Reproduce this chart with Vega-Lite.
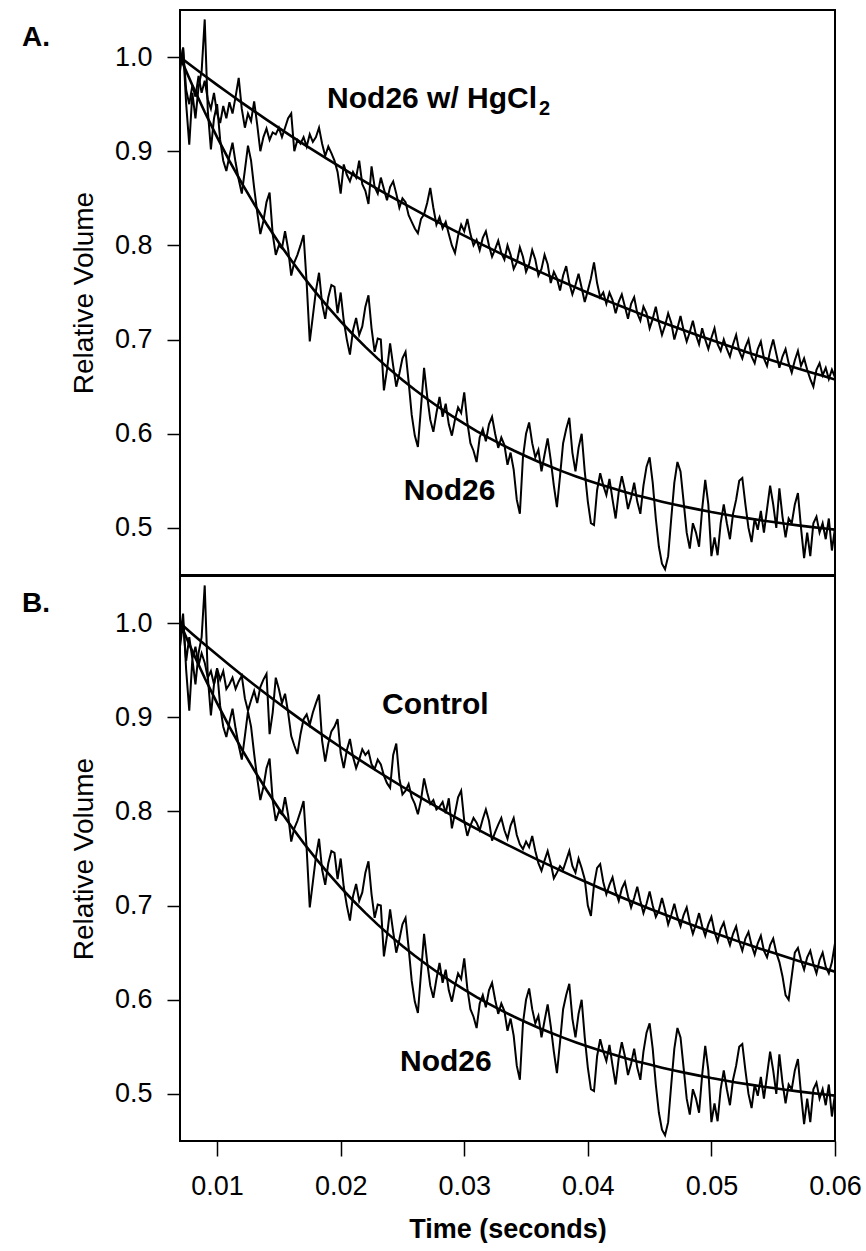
{
  "$schema": "https://vega.github.io/schema/vega-lite/v6.json",
  "background": "white",
  "padding": {"left": 20, "top": 9, "right": 0, "bottom": 0},
  "spacing": -1,
  "config": {
    "font": "Liberation Sans",
    "view": {"stroke": "black", "strokeWidth": 2},
    "axis": {"grid": false, "domain": false, "labelColor": "black", "titleColor": "black", "tickColor": "black", "tickWidth": 1.5, "labelFont": "Liberation Sans", "titleFont": "Liberation Sans"},
    "text": {"font": "Liberation Sans"}
  },
  "datasets": {
    "traces": [
      {"t":0.00700,"hg":0.990,"nod":0.985,"ctrl":0.975},
      {"t":0.00725,"hg":1.010,"nod":1.010,"ctrl":1.000},
      {"t":0.00750,"hg":0.965,"nod":0.950,"ctrl":0.960},
      {"t":0.00775,"hg":0.950,"nod":0.907,"ctrl":0.985},
      {"t":0.00800,"hg":0.970,"nod":0.962,"ctrl":0.962},
      {"t":0.00825,"hg":0.958,"nod":0.935,"ctrl":0.975},
      {"t":0.00850,"hg":0.980,"nod":0.968,"ctrl":0.955},
      {"t":0.00875,"hg":0.962,"nod":0.985,"ctrl":0.968},
      {"t":0.00900,"hg":0.975,"nod":1.040,"ctrl":0.958},
      {"t":0.00925,"hg":0.955,"nod":0.943,"ctrl":0.942},
      {"t":0.00950,"hg":0.945,"nod":0.902,"ctrl":0.949},
      {"t":0.00975,"hg":0.962,"nod":0.935,"ctrl":0.935},
      {"t":0.01000,"hg":0.940,"nod":0.950,"ctrl":0.952},
      {"t":0.01025,"hg":0.930,"nod":0.912,"ctrl":0.940},
      {"t":0.01050,"hg":0.948,"nod":0.890,"ctrl":0.949},
      {"t":0.01075,"hg":0.935,"nod":0.879,"ctrl":0.930},
      {"t":0.01100,"hg":0.952,"nod":0.895,"ctrl":0.935},
      {"t":0.01125,"hg":0.940,"nod":0.909,"ctrl":0.942},
      {"t":0.01150,"hg":0.958,"nod":0.888,"ctrl":0.930},
      {"t":0.01175,"hg":0.978,"nod":0.870,"ctrl":0.938},
      {"t":0.01200,"hg":0.945,"nod":0.855,"ctrl":0.944},
      {"t":0.01225,"hg":0.925,"nod":0.880,"ctrl":0.920},
      {"t":0.01250,"hg":0.940,"nod":0.906,"ctrl":0.907},
      {"t":0.01275,"hg":0.932,"nod":0.890,"ctrl":0.918},
      {"t":0.01300,"hg":0.953,"nod":0.861,"ctrl":0.928},
      {"t":0.01325,"hg":0.928,"nod":0.835,"ctrl":0.915},
      {"t":0.01350,"hg":0.900,"nod":0.812,"ctrl":0.932},
      {"t":0.01375,"hg":0.915,"nod":0.826,"ctrl":0.940},
      {"t":0.01400,"hg":0.924,"nod":0.846,"ctrl":0.946},
      {"t":0.01425,"hg":0.912,"nod":0.856,"ctrl":0.882},
      {"t":0.01450,"hg":0.920,"nod":0.812,"ctrl":0.905},
      {"t":0.01475,"hg":0.918,"nod":0.790,"ctrl":0.942},
      {"t":0.01500,"hg":0.925,"nod":0.800,"ctrl":0.930},
      {"t":0.01525,"hg":0.915,"nod":0.797,"ctrl":0.915},
      {"t":0.01550,"hg":0.925,"nod":0.815,"ctrl":0.925},
      {"t":0.01575,"hg":0.935,"nod":0.796,"ctrl":0.905},
      {"t":0.01600,"hg":0.940,"nod":0.768,"ctrl":0.880},
      {"t":0.01625,"hg":0.900,"nod":0.782,"ctrl":0.870},
      {"t":0.01650,"hg":0.912,"nod":0.790,"ctrl":0.861},
      {"t":0.01675,"hg":0.908,"nod":0.800,"ctrl":0.882},
      {"t":0.01700,"hg":0.915,"nod":0.811,"ctrl":0.898},
      {"t":0.01725,"hg":0.905,"nod":0.760,"ctrl":0.903},
      {"t":0.01750,"hg":0.918,"nod":0.698,"ctrl":0.892},
      {"t":0.01775,"hg":0.910,"nod":0.725,"ctrl":0.905},
      {"t":0.01800,"hg":0.915,"nod":0.752,"ctrl":0.915},
      {"t":0.01825,"hg":0.925,"nod":0.771,"ctrl":0.924},
      {"t":0.01850,"hg":0.908,"nod":0.738,"ctrl":0.875},
      {"t":0.01875,"hg":0.895,"nod":0.722,"ctrl":0.853},
      {"t":0.01900,"hg":0.905,"nod":0.745,"ctrl":0.872},
      {"t":0.01925,"hg":0.898,"nod":0.758,"ctrl":0.885},
      {"t":0.01950,"hg":0.890,"nod":0.756,"ctrl":0.890},
      {"t":0.01975,"hg":0.878,"nod":0.728,"ctrl":0.898},
      {"t":0.02000,"hg":0.855,"nod":0.750,"ctrl":0.862},
      {"t":0.02025,"hg":0.886,"nod":0.720,"ctrl":0.846},
      {"t":0.02050,"hg":0.875,"nod":0.700,"ctrl":0.865},
      {"t":0.02075,"hg":0.868,"nod":0.684,"ctrl":0.877},
      {"t":0.02100,"hg":0.878,"nod":0.710,"ctrl":0.858},
      {"t":0.02125,"hg":0.872,"nod":0.723,"ctrl":0.846},
      {"t":0.02150,"hg":0.890,"nod":0.705,"ctrl":0.855},
      {"t":0.02175,"hg":0.865,"nod":0.714,"ctrl":0.866},
      {"t":0.02200,"hg":0.858,"nod":0.735,"ctrl":0.860},
      {"t":0.02225,"hg":0.844,"nod":0.747,"ctrl":0.864},
      {"t":0.02250,"hg":0.884,"nod":0.712,"ctrl":0.850},
      {"t":0.02275,"hg":0.862,"nod":0.687,"ctrl":0.845},
      {"t":0.02300,"hg":0.855,"nod":0.701,"ctrl":0.855},
      {"t":0.02325,"hg":0.872,"nod":0.700,"ctrl":0.850},
      {"t":0.02350,"hg":0.860,"nod":0.646,"ctrl":0.838},
      {"t":0.02375,"hg":0.848,"nod":0.668,"ctrl":0.830},
      {"t":0.02400,"hg":0.862,"nod":0.696,"ctrl":0.825},
      {"t":0.02425,"hg":0.868,"nod":0.672,"ctrl":0.860},
      {"t":0.02450,"hg":0.855,"nod":0.650,"ctrl":0.872},
      {"t":0.02475,"hg":0.840,"nod":0.664,"ctrl":0.835},
      {"t":0.02500,"hg":0.850,"nod":0.680,"ctrl":0.818},
      {"t":0.02525,"hg":0.846,"nod":0.687,"ctrl":0.822},
      {"t":0.02550,"hg":0.832,"nod":0.655,"ctrl":0.829},
      {"t":0.02575,"hg":0.825,"nod":0.620,"ctrl":0.815},
      {"t":0.02600,"hg":0.818,"nod":0.598,"ctrl":0.808},
      {"t":0.02625,"hg":0.813,"nod":0.586,"ctrl":0.797},
      {"t":0.02650,"hg":0.828,"nod":0.628,"ctrl":0.812},
      {"t":0.02675,"hg":0.833,"nod":0.670,"ctrl":0.835},
      {"t":0.02700,"hg":0.845,"nod":0.640,"ctrl":0.820},
      {"t":0.02725,"hg":0.861,"nod":0.615,"ctrl":0.808},
      {"t":0.02750,"hg":0.840,"nod":0.602,"ctrl":0.812},
      {"t":0.02775,"hg":0.822,"nod":0.622,"ctrl":0.802},
      {"t":0.02800,"hg":0.830,"nod":0.639,"ctrl":0.805},
      {"t":0.02825,"hg":0.818,"nod":0.618,"ctrl":0.810},
      {"t":0.02850,"hg":0.825,"nod":0.632,"ctrl":0.798},
      {"t":0.02875,"hg":0.812,"nod":0.610,"ctrl":0.814},
      {"t":0.02900,"hg":0.800,"nod":0.598,"ctrl":0.782},
      {"t":0.02925,"hg":0.792,"nod":0.615,"ctrl":0.798},
      {"t":0.02950,"hg":0.810,"nod":0.628,"ctrl":0.815},
      {"t":0.02975,"hg":0.822,"nod":0.622,"ctrl":0.822},
      {"t":0.03000,"hg":0.815,"nod":0.644,"ctrl":0.790},
      {"t":0.03025,"hg":0.828,"nod":0.612,"ctrl":0.774},
      {"t":0.03050,"hg":0.812,"nod":0.590,"ctrl":0.785},
      {"t":0.03075,"hg":0.800,"nod":0.582,"ctrl":0.793},
      {"t":0.03100,"hg":0.806,"nod":0.570,"ctrl":0.788},
      {"t":0.03125,"hg":0.795,"nod":0.596,"ctrl":0.780},
      {"t":0.03150,"hg":0.808,"nod":0.605,"ctrl":0.792},
      {"t":0.03175,"hg":0.815,"nod":0.592,"ctrl":0.802},
      {"t":0.03200,"hg":0.800,"nod":0.610,"ctrl":0.790},
      {"t":0.03225,"hg":0.788,"nod":0.618,"ctrl":0.769},
      {"t":0.03250,"hg":0.796,"nod":0.600,"ctrl":0.778},
      {"t":0.03275,"hg":0.805,"nod":0.585,"ctrl":0.786},
      {"t":0.03300,"hg":0.792,"nod":0.596,"ctrl":0.793},
      {"t":0.03325,"hg":0.785,"nod":0.588,"ctrl":0.780},
      {"t":0.03350,"hg":0.800,"nod":0.567,"ctrl":0.771},
      {"t":0.03375,"hg":0.790,"nod":0.580,"ctrl":0.785},
      {"t":0.03400,"hg":0.775,"nod":0.562,"ctrl":0.793},
      {"t":0.03425,"hg":0.782,"nod":0.530,"ctrl":0.775},
      {"t":0.03450,"hg":0.798,"nod":0.515,"ctrl":0.765},
      {"t":0.03475,"hg":0.788,"nod":0.575,"ctrl":0.760},
      {"t":0.03500,"hg":0.772,"nod":0.600,"ctrl":0.768},
      {"t":0.03525,"hg":0.780,"nod":0.612,"ctrl":0.762},
      {"t":0.03550,"hg":0.795,"nod":0.590,"ctrl":0.774},
      {"t":0.03575,"hg":0.785,"nod":0.575,"ctrl":0.758},
      {"t":0.03600,"hg":0.768,"nod":0.583,"ctrl":0.745},
      {"t":0.03625,"hg":0.775,"nod":0.560,"ctrl":0.737},
      {"t":0.03650,"hg":0.790,"nod":0.578,"ctrl":0.748},
      {"t":0.03675,"hg":0.780,"nod":0.595,"ctrl":0.758},
      {"t":0.03700,"hg":0.760,"nod":0.572,"ctrl":0.745},
      {"t":0.03725,"hg":0.772,"nod":0.545,"ctrl":0.729},
      {"t":0.03750,"hg":0.765,"nod":0.522,"ctrl":0.735},
      {"t":0.03775,"hg":0.752,"nod":0.555,"ctrl":0.742},
      {"t":0.03800,"hg":0.768,"nod":0.590,"ctrl":0.738},
      {"t":0.03825,"hg":0.778,"nod":0.605,"ctrl":0.748},
      {"t":0.03850,"hg":0.760,"nod":0.617,"ctrl":0.758},
      {"t":0.03875,"hg":0.748,"nod":0.580,"ctrl":0.742},
      {"t":0.03900,"hg":0.758,"nod":0.560,"ctrl":0.735},
      {"t":0.03925,"hg":0.770,"nod":0.585,"ctrl":0.750},
      {"t":0.03950,"hg":0.755,"nod":0.600,"ctrl":0.740},
      {"t":0.03975,"hg":0.740,"nod":0.560,"ctrl":0.728},
      {"t":0.04000,"hg":0.752,"nod":0.528,"ctrl":0.700},
      {"t":0.04025,"hg":0.765,"nod":0.505,"ctrl":0.689},
      {"t":0.04050,"hg":0.782,"nod":0.503,"ctrl":0.722},
      {"t":0.04075,"hg":0.760,"nod":0.540,"ctrl":0.740},
      {"t":0.04100,"hg":0.745,"nod":0.558,"ctrl":0.744},
      {"t":0.04125,"hg":0.750,"nod":0.545,"ctrl":0.725},
      {"t":0.04150,"hg":0.738,"nod":0.535,"ctrl":0.712},
      {"t":0.04175,"hg":0.750,"nod":0.552,"ctrl":0.722},
      {"t":0.04200,"hg":0.742,"nod":0.530,"ctrl":0.730},
      {"t":0.04225,"hg":0.728,"nod":0.510,"ctrl":0.715},
      {"t":0.04250,"hg":0.740,"nod":0.538,"ctrl":0.705},
      {"t":0.04275,"hg":0.748,"nod":0.555,"ctrl":0.718},
      {"t":0.04300,"hg":0.735,"nod":0.540,"ctrl":0.725},
      {"t":0.04325,"hg":0.722,"nod":0.520,"ctrl":0.710},
      {"t":0.04350,"hg":0.738,"nod":0.532,"ctrl":0.698},
      {"t":0.04375,"hg":0.745,"nod":0.548,"ctrl":0.708},
      {"t":0.04400,"hg":0.728,"nod":0.528,"ctrl":0.720},
      {"t":0.04425,"hg":0.720,"nod":0.515,"ctrl":0.705},
      {"t":0.04450,"hg":0.735,"nod":0.545,"ctrl":0.692},
      {"t":0.04475,"hg":0.728,"nod":0.565,"ctrl":0.702},
      {"t":0.04500,"hg":0.712,"nod":0.575,"ctrl":0.715},
      {"t":0.04525,"hg":0.722,"nod":0.548,"ctrl":0.700},
      {"t":0.04550,"hg":0.735,"nod":0.510,"ctrl":0.688},
      {"t":0.04575,"hg":0.718,"nod":0.480,"ctrl":0.695},
      {"t":0.04600,"hg":0.705,"nod":0.462,"ctrl":0.708},
      {"t":0.04625,"hg":0.715,"nod":0.456,"ctrl":0.695},
      {"t":0.04650,"hg":0.728,"nod":0.470,"ctrl":0.680},
      {"t":0.04675,"hg":0.718,"nod":0.510,"ctrl":0.690},
      {"t":0.04700,"hg":0.700,"nod":0.548,"ctrl":0.702},
      {"t":0.04725,"hg":0.712,"nod":0.570,"ctrl":0.688},
      {"t":0.04750,"hg":0.725,"nod":0.560,"ctrl":0.678},
      {"t":0.04775,"hg":0.710,"nod":0.528,"ctrl":0.690},
      {"t":0.04800,"hg":0.698,"nod":0.495,"ctrl":0.698},
      {"t":0.04825,"hg":0.708,"nod":0.478,"ctrl":0.682},
      {"t":0.04850,"hg":0.720,"nod":0.505,"ctrl":0.670},
      {"t":0.04875,"hg":0.705,"nod":0.495,"ctrl":0.680},
      {"t":0.04900,"hg":0.695,"nod":0.480,"ctrl":0.692},
      {"t":0.04925,"hg":0.712,"nod":0.520,"ctrl":0.678},
      {"t":0.04950,"hg":0.700,"nod":0.551,"ctrl":0.668},
      {"t":0.04975,"hg":0.690,"nod":0.525,"ctrl":0.680},
      {"t":0.05000,"hg":0.702,"nod":0.470,"ctrl":0.688},
      {"t":0.05025,"hg":0.712,"nod":0.490,"ctrl":0.672},
      {"t":0.05050,"hg":0.695,"nod":0.471,"ctrl":0.662},
      {"t":0.05075,"hg":0.688,"nod":0.505,"ctrl":0.675},
      {"t":0.05100,"hg":0.700,"nod":0.525,"ctrl":0.682},
      {"t":0.05125,"hg":0.690,"nod":0.505,"ctrl":0.668},
      {"t":0.05150,"hg":0.682,"nod":0.488,"ctrl":0.658},
      {"t":0.05175,"hg":0.695,"nod":0.515,"ctrl":0.670},
      {"t":0.05200,"hg":0.705,"nod":0.530,"ctrl":0.678},
      {"t":0.05225,"hg":0.688,"nod":0.550,"ctrl":0.662},
      {"t":0.05250,"hg":0.680,"nod":0.553,"ctrl":0.652},
      {"t":0.05275,"hg":0.692,"nod":0.525,"ctrl":0.665},
      {"t":0.05300,"hg":0.700,"nod":0.500,"ctrl":0.672},
      {"t":0.05325,"hg":0.682,"nod":0.485,"ctrl":0.658},
      {"t":0.05350,"hg":0.675,"nod":0.510,"ctrl":0.648},
      {"t":0.05375,"hg":0.690,"nod":0.498,"ctrl":0.660},
      {"t":0.05400,"hg":0.698,"nod":0.518,"ctrl":0.668},
      {"t":0.05425,"hg":0.680,"nod":0.495,"ctrl":0.652},
      {"t":0.05450,"hg":0.672,"nod":0.520,"ctrl":0.645},
      {"t":0.05475,"hg":0.688,"nod":0.545,"ctrl":0.658},
      {"t":0.05500,"hg":0.700,"nod":0.525,"ctrl":0.665},
      {"t":0.05525,"hg":0.685,"nod":0.500,"ctrl":0.650},
      {"t":0.05550,"hg":0.670,"nod":0.542,"ctrl":0.640},
      {"t":0.05575,"hg":0.682,"nod":0.512,"ctrl":0.625},
      {"t":0.05600,"hg":0.690,"nod":0.490,"ctrl":0.605},
      {"t":0.05625,"hg":0.675,"nod":0.510,"ctrl":0.600},
      {"t":0.05650,"hg":0.665,"nod":0.505,"ctrl":0.625},
      {"t":0.05675,"hg":0.678,"nod":0.525,"ctrl":0.650},
      {"t":0.05700,"hg":0.688,"nod":0.537,"ctrl":0.655},
      {"t":0.05725,"hg":0.672,"nod":0.500,"ctrl":0.642},
      {"t":0.05750,"hg":0.680,"nod":0.468,"ctrl":0.632},
      {"t":0.05775,"hg":0.668,"nod":0.495,"ctrl":0.645},
      {"t":0.05800,"hg":0.658,"nod":0.470,"ctrl":0.652},
      {"t":0.05825,"hg":0.650,"nod":0.505,"ctrl":0.638},
      {"t":0.05850,"hg":0.668,"nod":0.512,"ctrl":0.628},
      {"t":0.05875,"hg":0.675,"nod":0.495,"ctrl":0.642},
      {"t":0.05900,"hg":0.662,"nod":0.505,"ctrl":0.650},
      {"t":0.05925,"hg":0.670,"nod":0.488,"ctrl":0.635},
      {"t":0.05950,"hg":0.658,"nod":0.510,"ctrl":0.628},
      {"t":0.05975,"hg":0.668,"nod":0.476,"ctrl":0.640},
      {"t":0.06000,"hg":0.660,"nod":0.500,"ctrl":0.660}
    ],
    "fits": [
      {"t":0.007,"hg":1.0000,"nod":1.0000,"ctrl":1.0000},
      {"t":0.008,"hg":0.9900,"nod":0.9700,"ctrl":0.9885},
      {"t":0.009,"hg":0.9801,"nod":0.9417,"ctrl":0.9773},
      {"t":0.010,"hg":0.9705,"nod":0.9150,"ctrl":0.9663},
      {"t":0.011,"hg":0.9610,"nod":0.8899,"ctrl":0.9555},
      {"t":0.012,"hg":0.9517,"nod":0.8662,"ctrl":0.9449},
      {"t":0.013,"hg":0.9426,"nod":0.8439,"ctrl":0.9346},
      {"t":0.014,"hg":0.9336,"nod":0.8228,"ctrl":0.9245},
      {"t":0.015,"hg":0.9248,"nod":0.8029,"ctrl":0.9146},
      {"t":0.016,"hg":0.9161,"nod":0.7842,"ctrl":0.9049},
      {"t":0.017,"hg":0.9076,"nod":0.7665,"ctrl":0.8954},
      {"t":0.018,"hg":0.8993,"nod":0.7499,"ctrl":0.8861},
      {"t":0.019,"hg":0.8911,"nod":0.7342,"ctrl":0.8770},
      {"t":0.020,"hg":0.8831,"nod":0.7194,"ctrl":0.8681},
      {"t":0.021,"hg":0.8752,"nod":0.7054,"ctrl":0.8593},
      {"t":0.022,"hg":0.8675,"nod":0.6922,"ctrl":0.8508},
      {"t":0.023,"hg":0.8598,"nod":0.6798,"ctrl":0.8424},
      {"t":0.024,"hg":0.8524,"nod":0.6681,"ctrl":0.8342},
      {"t":0.025,"hg":0.8451,"nod":0.6571,"ctrl":0.8262},
      {"t":0.026,"hg":0.8379,"nod":0.6467,"ctrl":0.8184},
      {"t":0.027,"hg":0.8308,"nod":0.6369,"ctrl":0.8107},
      {"t":0.028,"hg":0.8239,"nod":0.6276,"ctrl":0.8031},
      {"t":0.029,"hg":0.8171,"nod":0.6189,"ctrl":0.7958},
      {"t":0.030,"hg":0.8104,"nod":0.6107,"ctrl":0.7885},
      {"t":0.031,"hg":0.8038,"nod":0.6029,"ctrl":0.7815},
      {"t":0.032,"hg":0.7974,"nod":0.5956,"ctrl":0.7746},
      {"t":0.033,"hg":0.7910,"nod":0.5887,"ctrl":0.7678},
      {"t":0.034,"hg":0.7848,"nod":0.5822,"ctrl":0.7612},
      {"t":0.035,"hg":0.7787,"nod":0.5761,"ctrl":0.7547},
      {"t":0.036,"hg":0.7727,"nod":0.5703,"ctrl":0.7483},
      {"t":0.037,"hg":0.7668,"nod":0.5649,"ctrl":0.7421},
      {"t":0.038,"hg":0.7611,"nod":0.5598,"ctrl":0.7360},
      {"t":0.039,"hg":0.7554,"nod":0.5549,"ctrl":0.7300},
      {"t":0.040,"hg":0.7498,"nod":0.5503,"ctrl":0.7242},
      {"t":0.041,"hg":0.7444,"nod":0.5460,"ctrl":0.7184},
      {"t":0.042,"hg":0.7390,"nod":0.5420,"ctrl":0.7128},
      {"t":0.043,"hg":0.7338,"nod":0.5382,"ctrl":0.7073},
      {"t":0.044,"hg":0.7286,"nod":0.5345,"ctrl":0.7020},
      {"t":0.045,"hg":0.7235,"nod":0.5312,"ctrl":0.6967},
      {"t":0.046,"hg":0.7185,"nod":0.5279,"ctrl":0.6916},
      {"t":0.047,"hg":0.7136,"nod":0.5249,"ctrl":0.6865},
      {"t":0.048,"hg":0.7088,"nod":0.5221,"ctrl":0.6816},
      {"t":0.049,"hg":0.7041,"nod":0.5194,"ctrl":0.6767},
      {"t":0.050,"hg":0.6995,"nod":0.5168,"ctrl":0.6720},
      {"t":0.051,"hg":0.6950,"nod":0.5145,"ctrl":0.6674},
      {"t":0.052,"hg":0.6905,"nod":0.5122,"ctrl":0.6628},
      {"t":0.053,"hg":0.6861,"nod":0.5101,"ctrl":0.6584},
      {"t":0.054,"hg":0.6818,"nod":0.5081,"ctrl":0.6540},
      {"t":0.055,"hg":0.6776,"nod":0.5062,"ctrl":0.6498},
      {"t":0.056,"hg":0.6734,"nod":0.5044,"ctrl":0.6456},
      {"t":0.057,"hg":0.6694,"nod":0.5027,"ctrl":0.6415},
      {"t":0.058,"hg":0.6654,"nod":0.5011,"ctrl":0.6375},
      {"t":0.059,"hg":0.6615,"nod":0.4996,"ctrl":0.6336},
      {"t":0.060,"hg":0.6576,"nod":0.4982,"ctrl":0.6298}
    ]
  },
  "vconcat": [
    {
      "width": 655,
      "height": 565,
      "encoding": {
        "x": {"field": "t", "type": "quantitative", "scale": {"domain": [0.007, 0.06], "nice": false, "zero": false}, "axis": null}
      },
      "layer": [
        {
          "data": {"name": "traces"},
          "mark": {"type": "line", "color": "black", "strokeWidth": 2, "clip": true},
          "encoding": {"y": {"field": "hg", "type": "quantitative", "title": "Relative Volume", "scale": {"domain": [0.45, 1.05], "nice": false, "zero": false}, "axis": {"values": [0.5, 0.6, 0.7, 0.8, 0.9, 1.0], "format": ".1f", "tickSize": 13, "labelPadding": 15, "labelFontSize": 27, "titleFontSize": 28, "titleFontWeight": "normal", "titlePadding": 16}}}
        },
        {
          "data": {"name": "traces"},
          "mark": {"type": "line", "color": "black", "strokeWidth": 2, "clip": true},
          "encoding": {"y": {"field": "nod", "type": "quantitative", "title": "Relative Volume"}}
        },
        {
          "data": {"name": "fits"},
          "mark": {"type": "line", "color": "black", "strokeWidth": 2.6, "clip": true},
          "encoding": {"y": {"field": "hg", "type": "quantitative", "title": "Relative Volume"}}
        },
        {
          "data": {"name": "fits"},
          "mark": {"type": "line", "color": "black", "strokeWidth": 2.6, "clip": true},
          "encoding": {"y": {"field": "nod", "type": "quantitative", "title": "Relative Volume"}}
        },
        {
          "data": {"values": [{"t": 0.0189, "v": 0.946, "label": "Nod26 w/ HgCl"}, {"t": 0.0251, "v": 0.530, "label": "Nod26"}]},
          "mark": {"type": "text", "align": "left", "baseline": "alphabetic", "fontSize": 30, "fontWeight": "bold", "color": "black"},
          "encoding": {"y": {"field": "v", "type": "quantitative", "title": "Relative Volume"}, "text": {"field": "label"}}
        },
        {
          "data": {"values": [{"t": 0.03605, "v": 0.9384, "label": "2"}]},
          "mark": {"type": "text", "align": "left", "baseline": "alphabetic", "fontSize": 20, "fontWeight": "bold", "color": "black"},
          "encoding": {"y": {"field": "v", "type": "quantitative", "title": "Relative Volume"}, "text": {"field": "label"}}
        },
        {
          "data": {"values": [{"t": -0.005785, "v": 1.0118, "label": "A."}]},
          "mark": {"type": "text", "align": "left", "baseline": "alphabetic", "fontSize": 28, "fontWeight": "bold", "color": "black"},
          "encoding": {"y": {"field": "v", "type": "quantitative", "title": "Relative Volume"}, "text": {"field": "label"}}
        }
      ]
    },
    {
      "width": 655,
      "height": 565,
      "encoding": {
        "x": {"field": "t", "type": "quantitative", "title": "Time (seconds)", "scale": {"domain": [0.007, 0.06], "nice": false, "zero": false}, "axis": {"values": [0.01, 0.02, 0.03, 0.04, 0.05, 0.06], "format": ".2f", "tickSize": 15, "labelPadding": 17, "labelFontSize": 27, "labelFlush": false, "titleFontSize": 27, "titleFontWeight": "bold", "titlePadding": 17}}
      },
      "layer": [
        {
          "data": {"name": "traces"},
          "mark": {"type": "line", "color": "black", "strokeWidth": 2, "clip": true},
          "encoding": {"y": {"field": "ctrl", "type": "quantitative", "title": "Relative Volume", "scale": {"domain": [0.45, 1.05], "nice": false, "zero": false}, "axis": {"values": [0.5, 0.6, 0.7, 0.8, 0.9, 1.0], "format": ".1f", "tickSize": 13, "labelPadding": 15, "labelFontSize": 27, "titleFontSize": 28, "titleFontWeight": "normal", "titlePadding": 16}}}
        },
        {
          "data": {"name": "traces"},
          "mark": {"type": "line", "color": "black", "strokeWidth": 2, "clip": true},
          "encoding": {"y": {"field": "nod", "type": "quantitative", "title": "Relative Volume"}}
        },
        {
          "data": {"name": "fits"},
          "mark": {"type": "line", "color": "black", "strokeWidth": 2.6, "clip": true},
          "encoding": {"y": {"field": "ctrl", "type": "quantitative", "title": "Relative Volume"}}
        },
        {
          "data": {"name": "fits"},
          "mark": {"type": "line", "color": "black", "strokeWidth": 2.6, "clip": true},
          "encoding": {"y": {"field": "nod", "type": "quantitative", "title": "Relative Volume"}}
        },
        {
          "data": {"values": [{"t": 0.02335, "v": 0.9034, "label": "Control"}, {"t": 0.0248, "v": 0.5244, "label": "Nod26"}]},
          "mark": {"type": "text", "align": "left", "baseline": "alphabetic", "fontSize": 30, "fontWeight": "bold", "color": "black"},
          "encoding": {"y": {"field": "v", "type": "quantitative", "title": "Relative Volume"}, "text": {"field": "label"}}
        },
        {
          "data": {"values": [{"t": -0.005785, "v": 1.0118, "label": "B."}]},
          "mark": {"type": "text", "align": "left", "baseline": "alphabetic", "fontSize": 28, "fontWeight": "bold", "color": "black"},
          "encoding": {"y": {"field": "v", "type": "quantitative", "title": "Relative Volume"}, "text": {"field": "label"}}
        }
      ]
    }
  ]
}
